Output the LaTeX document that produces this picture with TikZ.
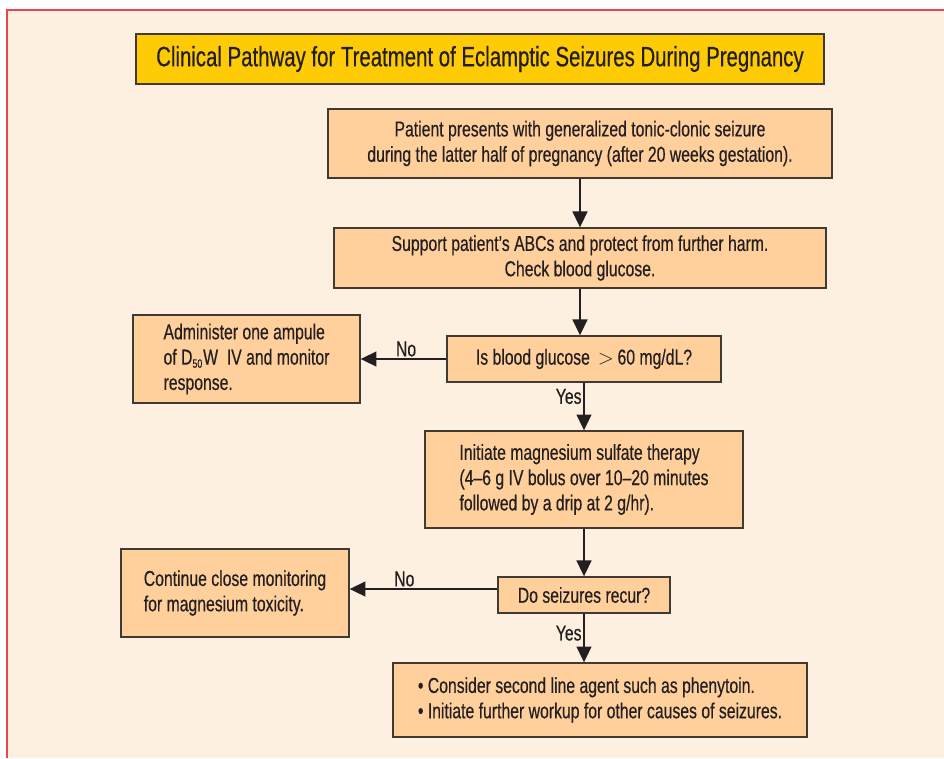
\documentclass[tikz,border=0pt]{standalone}
\usepackage{fontspec}
\setmainfont{Liberation Sans}[FakeStretch=0.73, FakeBold=0.4]
\usetikzlibrary{arrows.meta, positioning}

\definecolor{pagebg}{HTML}{FDF0E1}
\definecolor{boxfill}{HTML}{FFD09C}
\definecolor{titlefill}{HTML}{FFCB05}
\definecolor{edge}{HTML}{403A35}
\definecolor{ink}{HTML}{231F20}
\definecolor{frame}{HTML}{E8464E}

\tikzset{
  stepbox/.style={rectangle, draw=edge, line width=0.8pt, fill=boxfill, text=ink,
    inner sep=0pt, font=\fontsize{12.3}{14.4}\selectfont},
  titlebox/.style={stepbox, fill=titlefill, font=\fontsize{15.9}{18}\selectfont},
  flow/.style={draw=ink, line width=0.8pt, -{Triangle[length=9pt, width=8.5pt]}},
  answer/.style={text=ink, inner sep=1pt, font=\fontsize{12.3}{12}\selectfont}
}

\begin{document}
\begin{tikzpicture}[x=0.02cm, y=-0.02cm]
        \useasboundingbox (0, 0) rectangle (944, 758);
        \fill[pagebg] (7, 10) rectangle (944, 758);
        \draw[frame, line width=1.1pt] (7, 758) -- (7, 10) -- (944, 10);

        \node[titlebox, minimum width=13.76cm, minimum height=1cm] at (480, 59) (title)
            {Clinical Pathway for Treatment of Eclamptic Seizures During Pregnancy};

        \node[stepbox, align=center, minimum width=10.08cm, minimum height=1.38cm] at (580, 143.5) (onset)
            {Patient presents with generalized tonic-clonic seizure\\
             during the latter half of pregnancy (after 20 weeks gestation).};
        \node[stepbox, align=center, minimum width=9.84cm, minimum height=1.2cm] at (580, 258) (support)
            {Support patient's ABCs and protect from further harm.\\
             Check blood glucose.};
        \node[stepbox, align=center, minimum width=5.48cm, minimum height=0.92cm] at (584, 359) (glucose)
            {Is blood glucose \,$>$\,60 mg/dL?};
        \node[stepbox, align=left, minimum width=4.54cm, minimum height=1.76cm] at (246.5, 359) (dextrose)
            {Administer one ampule\\
             of D\textsubscript{\scalebox{0.8}{50}}W\ \ IV and monitor\\
             response.};
        \node[stepbox, align=left, minimum width=6.36cm, minimum height=1.94cm] at (584, 479.5) (magnesium)
            {Initiate magnesium sulfate therapy\\
             (4–6 g IV bolus over 10–20 minutes\\
             followed by a drip at 2 g/hr).};
        \node[stepbox, align=center, minimum width=3.44cm, minimum height=0.72cm] at (584, 595) (recur)
            {Do seizures recur?};
        \node[stepbox, align=left, minimum width=4.56cm, minimum height=1.76cm] at (235, 593) (monitor)
            {Continue close monitoring\\
             for magnesium toxicity.};
        \node[stepbox, align=left, minimum width=8.28cm, minimum height=1.48cm] at (600, 700) (second)
            {\textbullet\ Consider second line agent such as phenytoin.\\
             \textbullet\ Initiate further workup for other causes of seizures.};

        \draw[flow] (onset) to (support);
        \draw[flow] (support.south) to (support.south |- glucose.north);
        \draw[flow] (glucose) to node[answer, pos=0.47, above] {No} (dextrose);
        \draw[flow] (glucose) to node[answer, pos=0.29, left] {Yes} (magnesium);
        \draw[flow] (magnesium) to (recur);
        \draw[flow] ([yshift=0.12cm]recur.west) to node[answer, pos=0.63, above] {No}
            ([yshift=0.12cm]recur.west -| monitor.east);
        \draw[flow] (recur.south) to node[answer, pos=0.4, left] {Yes} (recur.south |- second.north);
    \end{tikzpicture}
\end{document}
